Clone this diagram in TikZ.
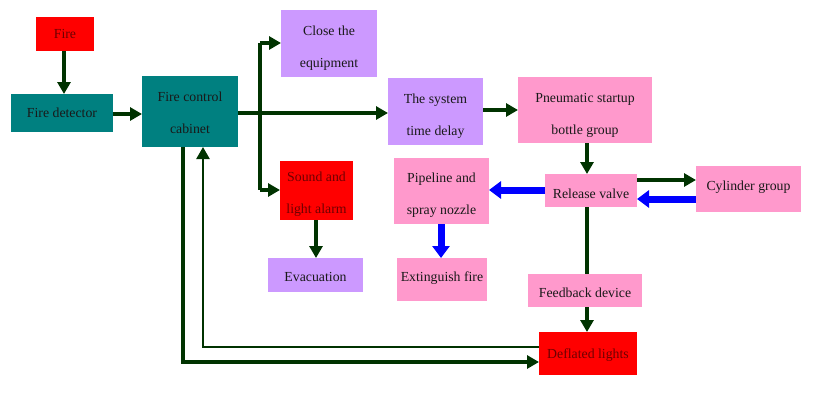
\documentclass[tikz,border=0pt]{standalone}
\usepackage{fontspec}
\setmainfont{Liberation Serif}
\usetikzlibrary{arrows.meta,calc}
\definecolor{tealbox}{RGB}{0,128,128}
\definecolor{lavbox}{RGB}{204,153,255}
\definecolor{pinkbox}{RGB}{255,153,204}
\definecolor{redbox}{RGB}{255,0,0}
\definecolor{dgreen}{RGB}{0,51,0}
\definecolor{bluearr}{RGB}{0,0,255}
\definecolor{redtext}{RGB}{110,0,0}
\tikzset{
  box/.style={inner sep=0pt, align=center, font=\fontsize{13.8}{32}\selectfont, text=black!90},
  garr/.style={draw=dgreen, line width=3.3pt, -{Triangle[length=12pt,width=13pt]}},
  gline/.style={draw=dgreen, line width=3.3pt},
  thinline/.style={draw=dgreen, line width=2.4pt},
  barr/.style={draw=bluearr, line width=7pt, -{Triangle[length=12pt,width=17pt]}},
}
\begin{document}
\begin{tikzpicture}[x=1pt,y=-1pt]
\useasboundingbox (0,0) rectangle (822,402);
\fill[white] (0,0) rectangle (822,402);
% boxes
\fill[redbox] (36,17) rectangle (94,51);
\node[box,text=redtext] (fire) at (65,34) {Fire};
\fill[tealbox] (11,94) rectangle (113,132);
\node[box] (det) at (62,113) {Fire detector};
\fill[tealbox] (142,76) rectangle (238,147);
\node[box] (cab) at (190,113) {Fire control\\cabinet};
\fill[lavbox] (281,10) rectangle (377,77);
\node[box] (close) at (329,48) {Close the\\equipment};
\fill[lavbox] (388,78) rectangle (483,145);
\node[box] (delay) at (435.5,116) {The system\\time delay};
\fill[pinkbox] (518,77) rectangle (652,143);
\node[box] (pneu) at (585,115) {Pneumatic startup\\bottle group};
\fill[pinkbox] (545,174) rectangle (637,207);
\node[box] (rel) at (591,194) {Release valve};
\fill[pinkbox] (696,166) rectangle (801,212);
\node[box] (cyl) at (748.5,187) {Cylinder group};
\fill[redbox] (280,161) rectangle (353,220);
\node[box,text=redtext] (alarm) at (316.5,194) {Sound and\\light alarm};
\fill[pinkbox] (394,158) rectangle (489,224);
\node[box] (pipe) at (441.5,195) {Pipeline and\\spray nozzle};
\fill[lavbox] (268,258) rectangle (363,292);
\node[box] (evac) at (315.5,277) {Evacuation};
\fill[pinkbox] (397,258) rectangle (487,301);
\node[box] (ext) at (442,278) {Extinguish fire};
\fill[pinkbox] (528,274) rectangle (642,307);
\node[box] (fb) at (585,293) {Feedback device};
\fill[redbox] (539,332) rectangle (637,375);
\node[box,text=redtext] (defl) at (588,355) {Deflated lights};
% coordinates on box edges
\coordinate (fireB) at (64,51);
\coordinate (detT) at (64,94);
\coordinate (detR) at (113,114);
\coordinate (cabL) at (142,114);
\coordinate (cabR) at (238,113);
\coordinate (delayL) at (388,113);
\coordinate (delayR) at (483,110);
\coordinate (pneuL) at (518,110);
\coordinate (busTop) at (260,43);
\coordinate (busBot) at (260,190);
\coordinate (closeL) at (281,43);
\coordinate (alarmL) at (280,190);
\coordinate (pneuB) at (587,143);
\coordinate (relT) at (587,174);
\coordinate (relB) at (587,207);
\coordinate (fbT) at (587,274);
\coordinate (fbB) at (587,307);
\coordinate (deflT) at (587,332);
\coordinate (relR) at (637,180);
\coordinate (cylL) at (696,180);
\coordinate (cylL2) at (696,199);
\coordinate (relR2) at (637,199);
\coordinate (relL) at (545,190);
\coordinate (pipeR) at (489,190);
\coordinate (pipeB) at (441,224);
\coordinate (extT) at (441,258);
\coordinate (alarmB) at (316,220);
\coordinate (evacT) at (316,258);
\coordinate (cabB1) at (183,147);
\coordinate (cabB2) at (203,147);
\coordinate (deflL1) at (539,362);
\coordinate (deflL2) at (539,347);
% connectors
\draw[garr] (fireB) -- (detT);
\draw[garr] (detR) -- (cabL);
\draw[garr] (cabR) -- (delayL);
\draw[gline] (busTop) -- (busBot);
\draw[garr] (busTop) -- (closeL);
\draw[garr] (busBot) -- (alarmL);
\draw[garr] (delayR) -- (pneuL);
\draw[garr] (pneuB) -- (relT);
\draw[garr] (relR) -- (cylL);
\draw[barr] (cylL2) -- (relR2);
\draw[barr] (relL) -- (pipeR);
\draw[barr] (pipeB) -- (extT);
\draw[garr] (alarmB) -- (evacT);
\draw[gline] (relB) -- (fbT);
\draw[garr] (fbB) -- (deflT);
\draw[garr] (cabB1) |- (deflL1);
\draw[thinline,-{Triangle[length=12pt,width=13pt]}] (deflL2) -| (cabB2);
\end{tikzpicture}
\end{document}
